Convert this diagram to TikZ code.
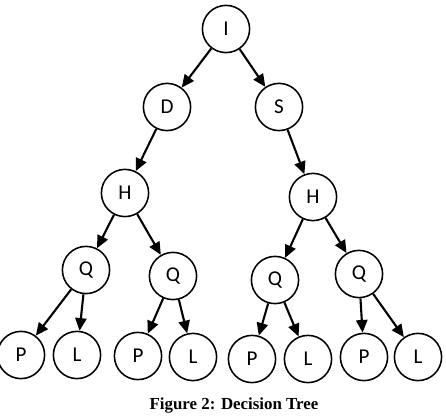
\documentclass[tikz,border=0pt]{standalone}
\usepackage{fontspec}
\setmainfont{Liberation Serif}
\newfontfamily\carlito{Carlito}
\usetikzlibrary{arrows.meta,positioning}

\begin{document}
\begin{tikzpicture}[x=0.025cm,y=-0.025cm,
  vertex/.style={circle,draw,line width=1.1pt,minimum size=1.18cm,inner sep=0pt,
                 font=\carlito\fontsize{15}{17}\selectfont},
  arrow/.style={-{Triangle[length=9pt,width=8pt]},line width=1.5pt}
]
\useasboundingbox (0,0) rectangle (446,418);
% Root
\node[vertex] (I) at (226,29) {I};
% Second level
\node[vertex] (D) at (167,107) {D};
\node[vertex] (S) at (279,107) {S};
% Third level
\node[vertex] (H1) at (125,193) {H};
\node[vertex] (H2) at (313,197) {H};
% Fourth level
\node[vertex] (Q1) at (86,270) {Q};
\node[vertex] (Q2) at (173,276) {Q};
\node[vertex] (Q3) at (275,280) {Q};
\node[vertex] (Q4) at (359,274) {Q};
% Leaves
\node[vertex] (P1) at (21,355) {P};
\node[vertex] (L1) at (77,355) {L};
\node[vertex] (P2) at (138,356) {P};
\node[vertex] (L2) at (193,357) {L};
\node[vertex] (P3) at (252,359) {P};
\node[vertex] (L3) at (308,359) {L};
\node[vertex] (P4) at (364,357) {P};
\node[vertex] (L4) at (418,357) {L};
% Arrows
\foreach \a/\b in {I/D,I/S,D/H1,S/H2,H1/Q1,H1/Q2,H2/Q3,H2/Q4,
                   Q1/P1,Q1/L1,Q2/P2,Q2/L2,Q3/P3,Q3/L3,Q4/P4,Q4/L4} {
  \draw[arrow] (\a) -- (\b);
}
% Caption
\node[font=\bfseries\fontsize{12}{14}\selectfont] (cap) at (234,406) {Figure 2: Decision Tree};
\end{tikzpicture}
\end{document}
